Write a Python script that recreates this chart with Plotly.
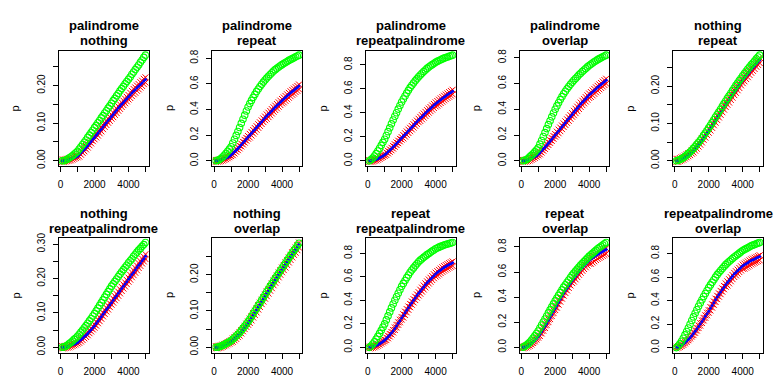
import plotly.graph_objects as go

W, H = 775, 377

# sequence positions shared by every panel
x_vals = list(range(100, 5001, 100))

# panel titles (two lines each)
title_top = ["palindrome", "palindrome", "palindrome", "palindrome", "nothing",
             "nothing", "nothing", "repeat", "repeat", "repeatpalindrome"]
title_bottom = ["nothing", "repeat", "repeatpalindrome", "overlap", "repeat",
                "repeatpalindrome", "overlap", "repeatpalindrome", "overlap", "overlap"]

# ---- panel 1: palindrome / nothing ----
g1 = [0.000,0.000,0.002,0.004,0.007, 0.010,0.013,0.017,0.021,0.025, 0.031,0.037,0.043,0.049,0.055,
      0.062,0.068,0.075,0.081,0.088, 0.094,0.101,0.107,0.114,0.120, 0.127,0.133,0.140,0.146,0.153,
      0.160,0.166,0.173,0.179,0.186, 0.192,0.198,0.205,0.211,0.217, 0.223,0.230,0.236,0.243,0.249,
      0.255,0.262,0.268,0.275,0.281]
b1 = [0.000,0.000,0.001,0.002,0.003, 0.004,0.006,0.008,0.010,0.012, 0.016,0.021,0.026,0.030,0.035,
      0.040,0.046,0.051,0.057,0.062, 0.068,0.073,0.079,0.084,0.090, 0.096,0.101,0.107,0.112,0.118,
      0.123,0.129,0.134,0.140,0.145, 0.150,0.155,0.160,0.165,0.170, 0.175,0.180,0.185,0.189,0.194,
      0.198,0.203,0.207,0.212,0.216]
rh1 = [0.003,0.003,0.004,0.005,0.006, 0.007,0.009,0.011,0.013,0.015, 0.020,0.025,0.030,0.034,0.039,
       0.044,0.050,0.055,0.061,0.066, 0.073,0.078,0.084,0.089,0.095, 0.101,0.106,0.112,0.117,0.123,
       0.128,0.134,0.139,0.145,0.150, 0.155,0.160,0.165,0.170,0.175, 0.181,0.186,0.191,0.195,0.200,
       0.204,0.209,0.213,0.218,0.222]
rl1 = [-0.003,-0.003,-0.002,-0.001,0.000, 0.001,0.003,0.005,0.007,0.009, 0.011,0.016,0.021,0.025,0.030,
       0.035,0.041,0.046,0.052,0.057, 0.062,0.067,0.073,0.078,0.084, 0.090,0.095,0.101,0.106,0.112,
       0.116,0.122,0.127,0.133,0.138, 0.143,0.148,0.153,0.158,0.163, 0.167,0.172,0.177,0.181,0.186,
       0.190,0.195,0.199,0.204,0.208]

# ---- panel 2: palindrome / repeat ----
g2 = [0.000,0.003,0.008,0.017,0.030, 0.043,0.058,0.074,0.091,0.110, 0.139,0.168,0.198,0.229,0.260,
      0.292,0.324,0.356,0.388,0.420, 0.446,0.471,0.495,0.518,0.540, 0.560,0.579,0.597,0.614,0.630,
      0.645,0.659,0.673,0.687,0.700, 0.711,0.721,0.731,0.741,0.750, 0.759,0.767,0.775,0.783,0.790,
      0.797,0.804,0.811,0.818,0.824]
b2 = [0.000,0.001,0.003,0.006,0.010, 0.015,0.021,0.028,0.036,0.045, 0.057,0.070,0.083,0.096,0.110,
      0.125,0.140,0.155,0.170,0.185, 0.200,0.215,0.230,0.245,0.260, 0.275,0.290,0.305,0.320,0.335,
      0.349,0.363,0.377,0.391,0.405, 0.418,0.431,0.444,0.457,0.470, 0.482,0.494,0.506,0.518,0.530,
      0.541,0.551,0.562,0.572,0.583]
rh2 = [0.006,0.007,0.009,0.012,0.016, 0.021,0.027,0.034,0.042,0.051, 0.065,0.078,0.091,0.104,0.118,
       0.133,0.148,0.163,0.178,0.193, 0.210,0.225,0.240,0.255,0.270, 0.285,0.300,0.315,0.330,0.345,
       0.361,0.375,0.389,0.403,0.417, 0.430,0.443,0.456,0.469,0.482, 0.494,0.506,0.518,0.530,0.542,
       0.553,0.563,0.574,0.584,0.595]
rl2 = [-0.008,-0.007,-0.005,-0.002,0.002, 0.007,0.013,0.020,0.028,0.037, 0.044,0.057,0.070,0.083,0.097,
       0.112,0.127,0.142,0.157,0.172, 0.182,0.197,0.212,0.227,0.242, 0.257,0.272,0.287,0.302,0.317,
       0.327,0.341,0.355,0.369,0.383, 0.396,0.409,0.422,0.435,0.448, 0.456,0.468,0.480,0.492,0.504,
       0.515,0.525,0.536,0.546,0.557]

# ---- panel 3: palindrome / repeatpalindrome ----
g3 = [0.000,0.010,0.023,0.040,0.060, 0.082,0.105,0.129,0.154,0.180, 0.211,0.243,0.275,0.308,0.340,
      0.371,0.401,0.431,0.461,0.490, 0.515,0.540,0.564,0.587,0.610, 0.629,0.648,0.666,0.683,0.700,
      0.715,0.729,0.743,0.757,0.770, 0.781,0.791,0.801,0.811,0.820, 0.828,0.835,0.842,0.849,0.855,
      0.860,0.865,0.870,0.875,0.880]
b3 = [0.000,0.001,0.003,0.007,0.012, 0.018,0.025,0.033,0.041,0.050, 0.062,0.075,0.088,0.101,0.115,
      0.130,0.145,0.160,0.175,0.190, 0.205,0.220,0.235,0.250,0.265, 0.280,0.295,0.310,0.325,0.340,
      0.354,0.368,0.382,0.396,0.410, 0.423,0.436,0.449,0.462,0.475, 0.486,0.497,0.508,0.519,0.530,
      0.540,0.550,0.560,0.570,0.580]
rh3 = [0.006,0.007,0.009,0.013,0.018, 0.024,0.031,0.039,0.047,0.056, 0.070,0.083,0.096,0.109,0.123,
       0.138,0.153,0.168,0.183,0.198, 0.215,0.230,0.245,0.260,0.275, 0.290,0.305,0.320,0.335,0.350,
       0.366,0.380,0.394,0.408,0.422, 0.435,0.448,0.461,0.474,0.487, 0.498,0.509,0.520,0.531,0.542,
       0.552,0.562,0.572,0.582,0.592]
rl3 = [-0.008,-0.007,-0.005,-0.001,0.004, 0.010,0.017,0.025,0.033,0.042, 0.049,0.062,0.075,0.088,0.102,
       0.117,0.132,0.147,0.162,0.177, 0.187,0.202,0.217,0.232,0.247, 0.262,0.277,0.292,0.307,0.322,
       0.332,0.346,0.360,0.374,0.388, 0.401,0.414,0.427,0.440,0.453, 0.460,0.471,0.482,0.493,0.504,
       0.514,0.524,0.534,0.544,0.554]

# ---- panel 4: palindrome / overlap ----
g4 = [0.000,0.003,0.008,0.017,0.030, 0.042,0.055,0.069,0.084,0.100, 0.129,0.158,0.188,0.219,0.250,
      0.281,0.311,0.341,0.371,0.400, 0.426,0.451,0.475,0.498,0.520, 0.540,0.559,0.577,0.594,0.610,
      0.625,0.639,0.653,0.667,0.680, 0.693,0.705,0.717,0.729,0.740, 0.750,0.759,0.768,0.777,0.785,
      0.793,0.800,0.807,0.814,0.820]
b4 = [0.000,0.001,0.003,0.006,0.010, 0.016,0.023,0.031,0.040,0.050, 0.063,0.077,0.091,0.105,0.120,
      0.136,0.152,0.168,0.184,0.200, 0.216,0.232,0.248,0.264,0.280, 0.296,0.312,0.328,0.344,0.360,
      0.376,0.392,0.408,0.424,0.440, 0.454,0.468,0.482,0.496,0.510, 0.522,0.534,0.546,0.558,0.570,
      0.581,0.592,0.603,0.614,0.625]
rh4 = [0.006,0.007,0.009,0.012,0.016, 0.022,0.029,0.037,0.046,0.056, 0.071,0.085,0.099,0.113,0.128,
       0.144,0.160,0.176,0.192,0.208, 0.226,0.242,0.258,0.274,0.290, 0.306,0.322,0.338,0.354,0.370,
       0.388,0.404,0.420,0.436,0.452, 0.466,0.480,0.494,0.508,0.522, 0.534,0.546,0.558,0.570,0.582,
       0.593,0.604,0.615,0.626,0.637]
rl4 = [-0.008,-0.007,-0.005,-0.002,0.002, 0.008,0.015,0.023,0.032,0.042, 0.050,0.064,0.078,0.092,0.107,
       0.123,0.139,0.155,0.171,0.187, 0.198,0.214,0.230,0.246,0.262, 0.278,0.294,0.310,0.326,0.342,
       0.354,0.370,0.386,0.402,0.418, 0.432,0.446,0.460,0.474,0.488, 0.496,0.508,0.520,0.532,0.544,
       0.555,0.566,0.577,0.588,0.599]

# ---- panel 5: nothing / repeat ----
g5 = [0.000,0.001,0.003,0.005,0.008, 0.011,0.015,0.019,0.023,0.028, 0.033,0.038,0.044,0.049,0.055,
      0.061,0.068,0.074,0.081,0.088, 0.095,0.102,0.110,0.117,0.124, 0.131,0.138,0.146,0.153,0.160,
      0.167,0.174,0.181,0.188,0.195, 0.202,0.208,0.215,0.221,0.228, 0.234,0.240,0.246,0.251,0.257,
      0.262,0.267,0.273,0.278,0.283]
b5 = [0.000,0.000,0.002,0.004,0.006, 0.009,0.012,0.015,0.018,0.022, 0.027,0.032,0.037,0.043,0.048,
      0.054,0.061,0.067,0.074,0.080, 0.087,0.094,0.101,0.108,0.115, 0.122,0.129,0.136,0.143,0.150,
      0.157,0.163,0.170,0.176,0.183, 0.189,0.196,0.202,0.209,0.215, 0.221,0.227,0.232,0.238,0.244,
      0.249,0.254,0.260,0.265,0.270]
rh5 = [0.005,0.005,0.007,0.009,0.011, 0.014,0.017,0.020,0.023,0.027, 0.032,0.037,0.042,0.048,0.053,
       0.059,0.066,0.072,0.079,0.085, 0.092,0.099,0.106,0.113,0.120, 0.127,0.134,0.141,0.148,0.155,
       0.163,0.169,0.176,0.182,0.189, 0.195,0.202,0.208,0.215,0.221, 0.227,0.233,0.238,0.244,0.250,
       0.255,0.260,0.266,0.271,0.276]
rl5 = [-0.003,-0.003,-0.001,0.001,0.003, 0.006,0.009,0.012,0.015,0.019, 0.022,0.027,0.032,0.038,0.043,
       0.049,0.056,0.062,0.069,0.075, 0.081,0.088,0.095,0.102,0.109, 0.116,0.123,0.130,0.137,0.144,
       0.150,0.156,0.163,0.169,0.176, 0.182,0.189,0.195,0.202,0.208, 0.213,0.219,0.224,0.230,0.236,
       0.241,0.246,0.252,0.257,0.262]

# ---- panel 6: nothing / repeatpalindrome ----
g6 = [0.000,0.001,0.003,0.006,0.010, 0.014,0.018,0.023,0.027,0.032, 0.038,0.044,0.050,0.057,0.063,
      0.070,0.077,0.084,0.091,0.098, 0.106,0.114,0.122,0.130,0.138, 0.146,0.154,0.162,0.170,0.178,
      0.185,0.192,0.199,0.206,0.213, 0.220,0.226,0.233,0.239,0.246, 0.252,0.258,0.265,0.271,0.277,
      0.283,0.288,0.294,0.299,0.305]
b6 = [0.000,0.000,0.001,0.002,0.003, 0.005,0.007,0.009,0.011,0.014, 0.018,0.022,0.026,0.031,0.035,
      0.040,0.046,0.051,0.057,0.062, 0.069,0.076,0.082,0.089,0.096, 0.103,0.110,0.116,0.123,0.130,
      0.137,0.144,0.150,0.157,0.164, 0.171,0.178,0.184,0.191,0.198, 0.205,0.212,0.218,0.225,0.232,
      0.239,0.245,0.252,0.258,0.265]
rh6 = [0.003,0.003,0.004,0.005,0.006, 0.008,0.010,0.012,0.014,0.017, 0.022,0.026,0.030,0.035,0.039,
       0.044,0.050,0.055,0.061,0.066, 0.074,0.081,0.087,0.094,0.101, 0.108,0.115,0.121,0.128,0.135,
       0.142,0.149,0.155,0.162,0.169, 0.176,0.183,0.189,0.196,0.203, 0.211,0.218,0.224,0.231,0.238,
       0.245,0.251,0.258,0.264,0.271]
rl6 = [-0.003,-0.003,-0.002,-0.001,0.000, 0.002,0.004,0.006,0.008,0.011, 0.013,0.017,0.021,0.026,0.030,
       0.035,0.041,0.046,0.052,0.057, 0.063,0.070,0.076,0.083,0.090, 0.097,0.104,0.110,0.117,0.124,
       0.130,0.137,0.143,0.150,0.157, 0.164,0.171,0.177,0.184,0.191, 0.197,0.204,0.210,0.217,0.224,
       0.231,0.237,0.244,0.250,0.257]

# ---- panel 7: nothing / overlap ----
g7 = [0.000,0.000,0.001,0.003,0.005, 0.007,0.010,0.012,0.015,0.018, 0.022,0.026,0.031,0.035,0.040,
      0.046,0.052,0.058,0.064,0.070, 0.077,0.085,0.092,0.100,0.107, 0.115,0.122,0.130,0.137,0.145,
      0.153,0.160,0.168,0.175,0.183, 0.190,0.197,0.204,0.211,0.218, 0.225,0.232,0.239,0.246,0.253,
      0.260,0.267,0.273,0.280,0.287]
b7 = [0.000,0.000,0.001,0.002,0.004, 0.006,0.008,0.011,0.013,0.016, 0.020,0.024,0.028,0.033,0.037,
      0.043,0.049,0.055,0.061,0.067, 0.074,0.081,0.089,0.096,0.103, 0.111,0.118,0.126,0.133,0.141,
      0.149,0.156,0.164,0.171,0.179, 0.186,0.193,0.201,0.208,0.215, 0.222,0.229,0.236,0.243,0.250,
      0.257,0.264,0.270,0.277,0.284]
rh7 = [0.003,0.003,0.004,0.005,0.007, 0.009,0.011,0.014,0.016,0.019, 0.024,0.028,0.032,0.037,0.041,
       0.047,0.053,0.059,0.065,0.071, 0.079,0.086,0.094,0.101,0.108, 0.116,0.123,0.131,0.138,0.146,
       0.154,0.161,0.169,0.176,0.184, 0.191,0.198,0.206,0.213,0.220, 0.227,0.234,0.241,0.248,0.255,
       0.262,0.269,0.275,0.282,0.289]
rl7 = [-0.003,-0.003,-0.002,-0.001,0.001, 0.003,0.005,0.008,0.010,0.013, 0.015,0.019,0.023,0.028,0.032,
       0.038,0.044,0.050,0.056,0.062, 0.067,0.074,0.082,0.089,0.096, 0.104,0.111,0.119,0.126,0.134,
       0.141,0.148,0.156,0.163,0.171, 0.178,0.185,0.193,0.200,0.207, 0.213,0.220,0.227,0.234,0.241,
       0.248,0.255,0.261,0.268,0.275]

# ---- panel 8: repeat / repeatpalindrome ----
g8 = [0.000,0.012,0.028,0.047,0.070, 0.094,0.119,0.145,0.172,0.200, 0.234,0.268,0.302,0.336,0.370,
      0.401,0.431,0.461,0.491,0.520, 0.545,0.570,0.594,0.617,0.640, 0.659,0.677,0.695,0.713,0.730,
      0.743,0.755,0.767,0.779,0.790, 0.800,0.810,0.820,0.830,0.840, 0.847,0.854,0.860,0.866,0.872,
      0.877,0.881,0.885,0.889,0.893]
b8 = [0.000,0.002,0.005,0.009,0.015, 0.022,0.031,0.040,0.050,0.060, 0.075,0.090,0.106,0.123,0.140,
      0.161,0.183,0.205,0.227,0.250, 0.272,0.294,0.316,0.338,0.360, 0.381,0.401,0.421,0.441,0.460,
      0.479,0.497,0.515,0.533,0.550, 0.566,0.581,0.596,0.611,0.625, 0.637,0.648,0.659,0.670,0.680,
      0.689,0.697,0.705,0.713,0.720]
rh8 = [0.006,0.008,0.011,0.015,0.021, 0.028,0.037,0.046,0.056,0.066, 0.083,0.098,0.114,0.131,0.148,
       0.169,0.191,0.213,0.235,0.258, 0.282,0.304,0.326,0.348,0.370, 0.391,0.411,0.431,0.451,0.470,
       0.491,0.509,0.527,0.545,0.562, 0.578,0.593,0.608,0.623,0.637, 0.649,0.660,0.671,0.682,0.692,
       0.701,0.709,0.717,0.725,0.732]
rl8 = [-0.008,-0.006,-0.003,0.001,0.007, 0.014,0.023,0.032,0.042,0.052, 0.062,0.077,0.093,0.110,0.127,
       0.148,0.170,0.192,0.214,0.237, 0.254,0.276,0.298,0.320,0.342, 0.363,0.383,0.403,0.423,0.442,
       0.457,0.475,0.493,0.511,0.528, 0.544,0.559,0.574,0.589,0.603, 0.611,0.622,0.633,0.644,0.654,
       0.663,0.671,0.679,0.687,0.694]

# ---- panel 9: repeat / overlap ----
g9 = [0.000,0.007,0.016,0.027,0.040, 0.056,0.073,0.091,0.110,0.130, 0.154,0.178,0.202,0.226,0.250,
      0.274,0.298,0.322,0.346,0.370, 0.392,0.414,0.436,0.458,0.480, 0.499,0.518,0.537,0.556,0.575,
      0.591,0.607,0.623,0.639,0.655, 0.669,0.683,0.697,0.711,0.725, 0.737,0.749,0.761,0.773,0.785,
      0.795,0.805,0.815,0.825,0.835]
b9 = [0.000,0.003,0.007,0.013,0.020, 0.030,0.042,0.055,0.070,0.085, 0.104,0.124,0.145,0.167,0.190,
      0.214,0.238,0.262,0.286,0.310, 0.334,0.358,0.382,0.406,0.430, 0.451,0.471,0.491,0.511,0.530,
      0.549,0.567,0.585,0.603,0.620, 0.635,0.649,0.663,0.677,0.690, 0.701,0.711,0.721,0.731,0.740,
      0.748,0.756,0.764,0.772,0.780]
rh9 = [0.006,0.009,0.013,0.019,0.026, 0.036,0.048,0.061,0.076,0.091, 0.112,0.132,0.153,0.175,0.198,
       0.222,0.246,0.270,0.294,0.318, 0.344,0.368,0.392,0.416,0.440, 0.461,0.481,0.501,0.521,0.540,
       0.559,0.577,0.595,0.613,0.630, 0.645,0.659,0.673,0.687,0.700, 0.711,0.721,0.731,0.741,0.750,
       0.758,0.766,0.774,0.782,0.790]
rl9 = [-0.008,-0.005,-0.001,0.005,0.012, 0.022,0.034,0.047,0.062,0.077, 0.091,0.111,0.132,0.154,0.177,
       0.201,0.225,0.249,0.273,0.297, 0.316,0.340,0.364,0.388,0.412, 0.433,0.453,0.473,0.493,0.512,
       0.524,0.542,0.560,0.578,0.595, 0.610,0.624,0.638,0.652,0.665, 0.666,0.676,0.686,0.696,0.705,
       0.713,0.721,0.729,0.737,0.745]

# ---- panel 10: repeatpalindrome / overlap ----
g10 = [0.000,0.014,0.032,0.054,0.080, 0.108,0.137,0.167,0.198,0.230, 0.261,0.292,0.322,0.351,0.380,
       0.407,0.434,0.460,0.485,0.510, 0.533,0.555,0.577,0.599,0.620, 0.638,0.655,0.672,0.689,0.705,
       0.719,0.732,0.745,0.758,0.770, 0.781,0.792,0.803,0.814,0.825, 0.833,0.841,0.849,0.857,0.865,
       0.871,0.877,0.882,0.888,0.893]
b10 = [0.000,0.005,0.011,0.020,0.030, 0.042,0.055,0.069,0.084,0.100, 0.119,0.138,0.158,0.179,0.200,
       0.222,0.244,0.266,0.288,0.310, 0.334,0.358,0.382,0.406,0.430, 0.451,0.472,0.493,0.514,0.535,
       0.553,0.571,0.589,0.607,0.625, 0.639,0.653,0.667,0.681,0.695, 0.704,0.713,0.722,0.731,0.740,
       0.747,0.754,0.761,0.768,0.775]
rh10 = [0.008,0.013,0.019,0.028,0.038, 0.050,0.063,0.077,0.092,0.108, 0.127,0.146,0.166,0.187,0.208,
        0.230,0.252,0.274,0.296,0.318, 0.344,0.368,0.392,0.416,0.440, 0.461,0.482,0.503,0.524,0.545,
        0.563,0.581,0.599,0.617,0.635, 0.649,0.663,0.677,0.691,0.705, 0.714,0.723,0.732,0.741,0.750,
        0.757,0.764,0.771,0.778,0.785]
rl10 = [-0.006,-0.001,0.005,0.014,0.024, 0.036,0.049,0.063,0.078,0.094, 0.106,0.125,0.145,0.166,0.187,
        0.209,0.231,0.253,0.275,0.297, 0.316,0.340,0.364,0.388,0.412, 0.433,0.454,0.475,0.496,0.517,
        0.528,0.546,0.564,0.582,0.600, 0.614,0.628,0.642,0.656,0.670, 0.671,0.680,0.689,0.698,0.707,
        0.714,0.721,0.728,0.735,0.742]

# axis ticks
x_ticks = [0, 1000, 2000, 3000, 4000, 5000]
x_tick_labels = ["0", "", "2000", "", "4000", ""]
y_ticks_small = [0.00, 0.05, 0.10, 0.15, 0.20, 0.25]
y_labels_small = ["0.00", "", "0.10", "", "0.20", ""]
y_ticks_mid = [0.00, 0.05, 0.10, 0.15, 0.20, 0.25, 0.30]
y_labels_mid = ["0.00", "", "0.10", "", "0.20", "", "0.30"]
y_ticks_big = [0.0, 0.2, 0.4, 0.6, 0.8]
y_labels_big = ["0.0", "0.2", "0.4", "0.6", "0.8"]

greens = [g1, g2, g3, g4, g5, g6, g7, g8, g9, g10]
blues = [b1, b2, b3, b4, b5, b6, b7, b8, b9, b10]
reds_hi = [rh1, rh2, rh3, rh4, rh5, rh6, rh7, rh8, rh9, rh10]
reds_lo = [rl1, rl2, rl3, rl4, rl5, rl6, rl7, rl8, rl9, rl10]
y_tick_sets = [(y_ticks_small, y_labels_small), (y_ticks_big, y_labels_big),
               (y_ticks_big, y_labels_big), (y_ticks_big, y_labels_big),
               (y_ticks_small, y_labels_small), (y_ticks_mid, y_labels_mid),
               (y_ticks_small, y_labels_small), (y_ticks_big, y_labels_big),
               (y_ticks_big, y_labels_big), (y_ticks_big, y_labels_big)]

FONT = "Liberation Sans, Arial, sans-serif"
fig = go.Figure()
layout = dict(width=W, height=H, margin=dict(l=0, r=0, t=0, b=0),
              paper_bgcolor="white", plot_bgcolor="white", showlegend=False)
annotations = []


def padded(lo, hi):
    p = 0.04 * (hi - lo)
    return [lo - p, hi + p]


red_marker = dict(symbol="x-thin-open", size=6, color="#FF0000",
                  line=dict(width=1, color="#FF0000"))
blue_marker = dict(symbol="circle", size=3, color="#0000FF", line=dict(width=0))
green_marker = dict(symbol="circle-open", size=6.5, color="#00FF00",
                    line=dict(width=1.1, color="#00FF00"))

for i in range(10):
    row, col = divmod(i, 5)
    left = 58 + 153.75 * col
    right = left + 90
    top, bottom = (46, 164) if row == 0 else (238, 355)
    ax = "" if i == 0 else str(i + 1)
    xa, ya = "x" + ax, "y" + ax

    series = [(reds_lo[i], red_marker), (reds_hi[i], red_marker),
              (blues[i], blue_marker), (greens[i], green_marker)]
    for ys, mk in series:
        fig.add_trace(go.Scatter(x=x_vals, y=ys, mode="markers", marker=mk,
                                 xaxis=xa, yaxis=ya, hoverinfo="skip"))

    all_y = greens[i] + blues[i] + reds_hi[i] + reds_lo[i]
    yt, yl = y_tick_sets[i]
    common = dict(showgrid=False, zeroline=False, showline=True, mirror=True,
                  linecolor="black", linewidth=1, ticks="outside", ticklen=5,
                  tickwidth=1, tickcolor="black",
                  tickfont=dict(family=FONT, size=10, color="black"))
    layout["xaxis" + ax] = dict(common, domain=[left / W, right / W],
                                range=padded(min(x_vals), max(x_vals)),
                                tickvals=x_ticks, ticktext=x_tick_labels,
                                anchor=ya, ticklabelstandoff=4)
    layout["yaxis" + ax] = dict(common, domain=[1 - bottom / H, 1 - top / H],
                                range=padded(min(all_y), max(all_y)),
                                tickvals=yt, ticktext=yl, tickangle=-90,
                                anchor=xa, ticklabelstandoff=4)

    cx = (left + right) / 2
    t1 = 20 if row == 0 else 212.5
    annotations.append(dict(text="<b>%s</b>" % title_top[i], x=cx / W, y=1 - t1 / H,
                            xref="paper", yref="paper", showarrow=False,
                            xanchor="center", yanchor="middle",
                            font=dict(family=FONT, size=13, color="black")))
    annotations.append(dict(text="<b>%s</b>" % title_bottom[i], x=cx / W,
                            y=1 - (t1 + 15.5) / H, xref="paper", yref="paper",
                            showarrow=False, xanchor="center", yanchor="middle",
                            font=dict(family=FONT, size=13, color="black")))
    annotations.append(dict(text="p", x=(left - 43) / W, y=1 - ((top + bottom) / 2) / H,
                            xref="paper", yref="paper", showarrow=False, textangle=-90,
                            xanchor="center", yanchor="middle",
                            font=dict(family=FONT, size=11, color="black")))

layout["annotations"] = annotations
fig.update_layout(**layout)
fig.write_html("out.html")
